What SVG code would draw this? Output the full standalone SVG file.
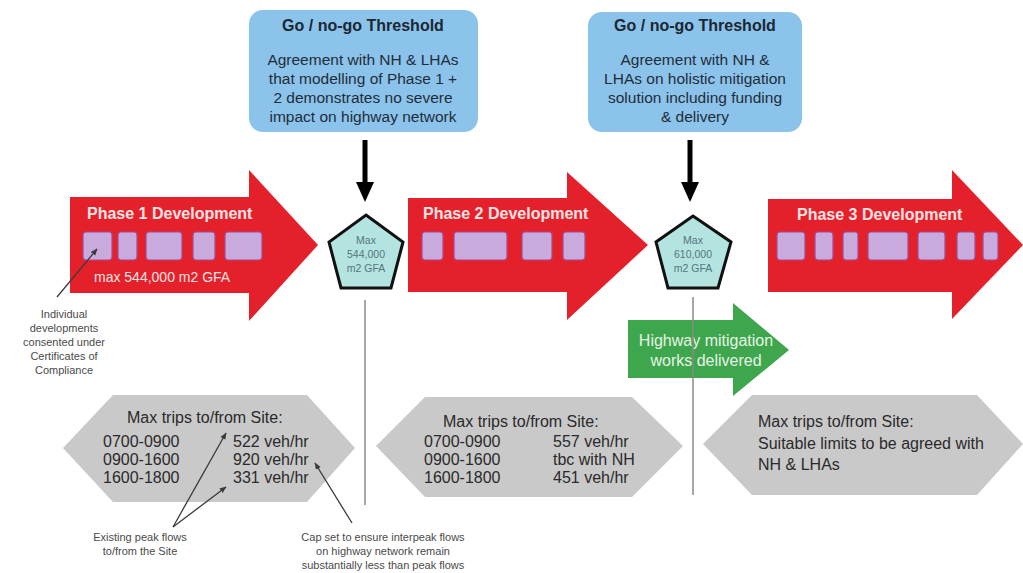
<svg xmlns="http://www.w3.org/2000/svg" width="1023" height="573" viewBox="0 0 1023 573">
<defs>
<marker id="ah" viewBox="0 0 10 10" refX="9" refY="5" markerWidth="7" markerHeight="7" orient="auto" markerUnits="userSpaceOnUse">
<path d="M0,1 L10,5 L0,9 z" fill="#3a3a3a"/>
</marker>
<style>
.gate{fill:#8cc3ea;}
.gt{font-family:"Liberation Sans",Arial,sans-serif;font-size:16px;font-weight:bold;fill:#1b2733;text-anchor:middle;}
.gb{font-family:"Liberation Sans",Arial,sans-serif;font-size:15.5px;fill:#1f2d3a;text-anchor:middle;}
.red{fill:#e4212b;}
.pt{font-family:"Liberation Sans",Arial,sans-serif;font-size:16px;font-weight:bold;fill:#fbe3e3;}
.wt{font-family:"Liberation Sans",Arial,sans-serif;font-size:14px;fill:#fbe3e3;}
.lot{fill:#c8aadc;stroke:#a24a92;stroke-width:1.2;}
.pent{fill:#b4e4e0;stroke:#111;stroke-width:3;stroke-linejoin:miter;}
.pn{font-family:"Liberation Sans",Arial,sans-serif;font-size:10.5px;fill:#55767c;text-anchor:middle;}
.hex{fill:#c9c9c9;}
.ht{font-family:"Liberation Sans",Arial,sans-serif;font-size:16px;fill:#2a2a2a;}
.ann{font-family:"Liberation Sans",Arial,sans-serif;font-size:11px;fill:#4a4a4a;text-anchor:middle;}
.green{fill:#3ea64c;}
.gw{font-family:"Liberation Sans",Arial,sans-serif;font-size:16px;fill:#e6f4e6;text-anchor:middle;}
.vl{stroke:#8a8a8a;stroke-width:1.5;fill:none;}
.al{stroke:#3a3a3a;stroke-width:1.3;fill:none;marker-end:url(#ah);}
.down{stroke:#000;stroke-width:5;fill:none;}
</style>
</defs>
<rect width="1023" height="573" fill="#ffffff"/>

<g id="gate1">
<rect class="gate" x="249" y="10" width="229" height="122" rx="14"/>
<text class="gt" x="363" y="31">Go / no-go Threshold</text>
<text class="gb" x="363" y="65">Agreement with NH &amp; LHAs</text>
<text class="gb" x="363" y="84">that modelling of Phase 1 +</text>
<text class="gb" x="363" y="103">2 demonstrates no severe</text>
<text class="gb" x="363" y="122">impact on highway network</text>
</g>

<g id="gate2">
<rect class="gate" x="588" y="12" width="214" height="120" rx="14"/>
<text class="gt" x="695" y="31">Go / no-go Threshold</text>
<text class="gb" x="695" y="65">Agreement with NH &amp;</text>
<text class="gb" x="695" y="84">LHAs on holistic mitigation</text>
<text class="gb" x="695" y="103">solution including funding</text>
<text class="gb" x="695" y="122">&amp; delivery</text>
</g>

<g id="phase1">
<polygon class="red" points="70,197 249,197 249,170 318,245 249,321 249,293 70,293"/>
<text class="pt" x="87" y="219">Phase 1 Development</text>
<rect class="lot" x="83" y="232" width="29" height="28" rx="3"/>
<rect class="lot" x="118" y="232" width="19" height="28" rx="3"/>
<rect class="lot" x="146" y="232" width="36" height="28" rx="3"/>
<rect class="lot" x="193" y="232" width="22" height="28" rx="3"/>
<rect class="lot" x="225" y="232" width="37" height="28" rx="3"/>
<text class="wt" x="94" y="282">max 544,000 m2 GFA</text>
</g>

<g id="phase2">
<polygon class="red" points="408,198 567,198 567,172 648,245 567,320 567,292 408,292"/>
<text class="pt" x="423" y="219">Phase 2 Development</text>
<rect class="lot" x="422" y="232" width="21" height="28" rx="3"/>
<rect class="lot" x="454" y="232" width="53" height="28" rx="3"/>
<rect class="lot" x="522" y="232" width="30" height="28" rx="3"/>
<rect class="lot" x="563" y="232" width="22" height="28" rx="3"/>
</g>

<g id="phase3">
<polygon class="red" points="768,199 952,199 952,170 1023,245 952,319 952,292 768,292"/>
<text class="pt" x="797" y="220">Phase 3 Development</text>
<rect class="lot" x="777" y="232" width="28" height="28" rx="3"/>
<rect class="lot" x="815" y="232" width="18" height="28" rx="3"/>
<rect class="lot" x="843" y="232" width="15" height="28" rx="3"/>
<rect class="lot" x="868" y="232" width="40" height="28" rx="3"/>
<rect class="lot" x="918" y="232" width="27" height="28" rx="3"/>
<rect class="lot" x="957" y="232" width="18" height="28" rx="3"/>
<rect class="lot" x="983" y="232" width="15" height="28" rx="3"/>
</g>

<g id="cap1">
<polygon class="pent" points="366,215 403,242 391,288 341,288 329,242"/>
<text class="pn" x="366" y="244">Max</text>
<text class="pn" x="366" y="258">544,000</text>
<text class="pn" x="366" y="272">m2 GFA</text>
</g>

<g id="cap2">
<polygon class="pent" points="693,216 731,242 718,288 668,288 656,242"/>
<text class="pn" x="693" y="244">Max</text>
<text class="pn" x="693" y="258">610,000</text>
<text class="pn" x="693" y="272">m2 GFA</text>
</g>

<g id="mitigation">
<polygon class="green" points="628,320 733,320 733,303 789,350 733,396 733,378 628,378"/>
<text class="gw" x="706" y="346">Highway mitigation</text>
<text class="gw" x="706" y="366">works delivered</text>
</g>

<g id="trips1">
<polygon class="hex" points="63,448 113,395 307,395 355,448 307,502 113,502"/>
<text class="ht" x="127" y="423">Max trips to/from Site:</text>
<text class="ht" x="103" y="447">0700-0900</text>
<text class="ht" x="103" y="465">0900-1600</text>
<text class="ht" x="103" y="483">1600-1800</text>
<text class="ht" x="233" y="447">522 veh/hr</text>
<text class="ht" x="233" y="465">920 veh/hr</text>
<text class="ht" x="233" y="483">331 veh/hr</text>
</g>

<g id="trips2">
<polygon class="hex" points="376,446 425,397 632,397 683,446 632,497 425,497"/>
<text class="ht" x="443" y="427">Max trips to/from Site:</text>
<text class="ht" x="424" y="447">0700-0900</text>
<text class="ht" x="424" y="465">0900-1600</text>
<text class="ht" x="424" y="483">1600-1800</text>
<text class="ht" x="553" y="447">557 veh/hr</text>
<text class="ht" x="553" y="465">tbc with NH</text>
<text class="ht" x="553" y="483">451 veh/hr</text>
</g>

<g id="trips3">
<polygon class="hex" points="703,444 752,395 977,395 1023,444 977,495 752,495"/>
<text class="ht" x="758" y="427">Max trips to/from Site:</text>
<text class="ht" x="758" y="449">Suitable limits to be agreed with</text>
<text class="ht" x="758" y="470">NH &amp; LHAs</text>
</g>

<g id="note-lots">
<text class="ann" x="64" y="318">Individual</text>
<text class="ann" x="64" y="332">developments</text>
<text class="ann" x="64" y="346">consented under</text>
<text class="ann" x="64" y="360">Certificates of</text>
<text class="ann" x="64" y="374">Compliance</text>
</g>

<g id="note-peak">
<text class="ann" x="140" y="541">Existing peak flows</text>
<text class="ann" x="140" y="555">to/from the Site</text>
</g>

<g id="note-cap">
<text class="ann" x="383" y="541">Cap set to ensure interpeak flows</text>
<text class="ann" x="383" y="555">on highway network remain</text>
<text class="ann" x="383" y="569">substantially less than peak flows</text>
</g>

<g id="connectors">
<line class="down" x1="365" y1="140" x2="365" y2="184"/>
<polygon points="356,182 374,182 365,202" fill="#000"/>
<line class="down" x1="690" y1="140" x2="690" y2="184"/>
<polygon points="681,182 699,182 690,202" fill="#000"/>
<line class="vl" x1="365" y1="300" x2="365" y2="505"/>
<line class="vl" x1="693" y1="297" x2="693" y2="495"/>
<line class="al" x1="57" y1="297" x2="97" y2="249"/>
<line class="al" x1="173" y1="527" x2="226" y2="433"/>
<line class="al" x1="173" y1="527" x2="226" y2="487"/>
<line class="al" x1="352" y1="523" x2="315" y2="463"/>
</g>
</svg>
